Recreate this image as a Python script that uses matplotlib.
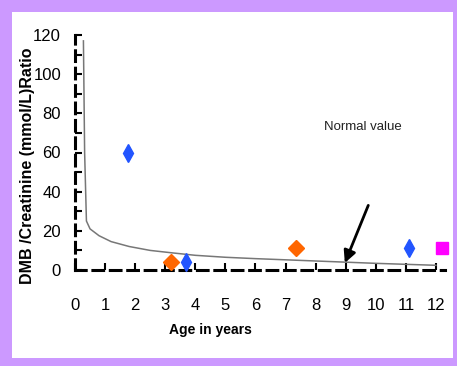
import matplotlib
matplotlib.use("Agg")
import matplotlib.pyplot as plt
from matplotlib.patches import Rectangle

# Normal-value curve
curve_age = [0.28, 0.32, 0.38, 0.5, 0.8, 1.2, 1.8, 2.5, 3.2, 4, 5, 6, 7, 8, 9, 10, 11, 12]
curve_val = [117, 60, 25, 21, 17.5, 14.5, 12, 10, 8.8, 7.5, 6.5, 5.8, 5.2, 4.6, 4.0, 3.4, 2.9, 2.4]

# Patient points
blue_age = [1.75, 3.7, 11.1]
blue_val = [60, 4, 11]
orange_age = [3.2, 7.35]
orange_val = [4, 11]
magenta_age = [12.2]
magenta_val = [11]

xticks = list(range(0, 13))
yticks = [0, 20, 40, 60, 80, 100, 120]

W, H = 457, 366
fig = plt.figure(figsize=(W / 100, H / 100), dpi=100)
fig.patch.set_facecolor("white")

# purple frame
purple = "#cc99ff"
fig.patches.append(Rectangle((0, 0), 1, 1, transform=fig.transFigure,
                             facecolor=purple, edgecolor="none", zorder=-10))
fig.patches.append(Rectangle((12 / W, 8 / H), (453 - 12) / W, (358 - 12) / H,
                             transform=fig.transFigure, facecolor="white",
                             edgecolor="none", zorder=-9))

x0, x1 = 75, 448
y0, y1 = 270, 35
ax = fig.add_axes([x0 / W, (H - y0) / H, (x1 - x0) / W, (y0 - y1) / H])
ax.set_facecolor("none")
ax.set_xlim(0, 12.4)
ax.set_ylim(0, 120)

sans = ["Liberation Sans", "DejaVu Sans"]

ax.plot(curve_age, curve_val, color="#777777", lw=1.1, zorder=2)
ax.plot(blue_age, blue_val, ls="none", marker="d", ms=9, color="#2255ff",
        mec="#2255ff", zorder=3, clip_on=False)
ax.plot(orange_age, orange_val, ls="none", marker="D", ms=8, color="#ff6600",
        mec="#ff6600", zorder=3, clip_on=False)
ax.plot(magenta_age, magenta_val, ls="none", marker="s", ms=9, color="#ff00ff",
        mec="#ff00ff", zorder=3, clip_on=False)

ax.annotate("", xy=(8.97, 3.6), xytext=(9.75, 33),
            arrowprops=dict(arrowstyle="-|>", color="black", lw=2,
                            mutation_scale=18, shrinkA=0, shrinkB=0))
ax.text(9.57, 73, "Normal value", fontsize=9.5, family=sans,
        ha="center", va="center", color="#222222")

for s in ["top", "right"]:
    ax.spines[s].set_visible(False)
for s in ["left", "bottom"]:
    ax.spines[s].set_linewidth(2.2)
    ax.spines[s].set_linestyle((0, (3.5, 2.2)))
ax.spines["bottom"].set_bounds(0, 12.3)

ax.set_xticks(xticks)
ax.set_yticks(yticks)
ax.set_yticks(range(10, 120, 20), minor=True)
ax.tick_params(axis="both", which="both", direction="in", length=5, width=1.5,
               color="black")
ax.tick_params(axis="x", pad=20)
ax.tick_params(axis="y", pad=10)
for lab in ax.get_xticklabels() + ax.get_yticklabels():
    lab.set_family(sans)
    lab.set_fontsize(12)

ax.set_xlabel("Age in years", fontsize=10, fontweight="bold", family=sans)
ax.xaxis.set_label_coords((210 - x0) / (x1 - x0), (y0 - 323) / (y0 - y1))
ax.set_ylabel("DMB /Creatinine (mmol/L)Ratio", fontsize=11.5, fontweight="bold",
              family=sans)
ax.yaxis.set_label_coords((35 - x0) / (x1 - x0), (y0 - 166) / (y0 - y1))

fig.savefig("out.png", dpi=100)
